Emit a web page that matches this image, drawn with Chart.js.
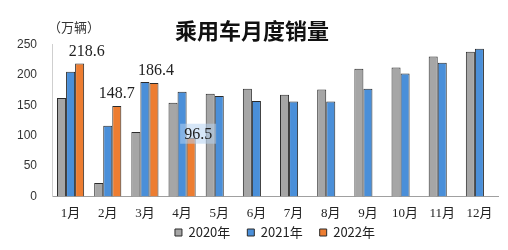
<!DOCTYPE html>
<html>
<head>
<meta charset="utf-8">
<script src="https://cdn.jsdelivr.net/npm/chart.js@4"></script>
<style>
  html, body { margin: 0; padding: 0; background: #fff; }
  #wrap { width: 508px; height: 250px; position: relative; }
</style>
</head>
<body>
<div id="wrap"><canvas id="sales_chart"></canvas></div>
<script>
// 乘用车月度销量 (万辆)
const months = ["1月", "2月", "3月", "4月", "5月", "6月", "7月", "8月", "9月", "10月", "11月", "12月"];
const sales2020 = [162, 22, 106, 154, 169, 177, 167, 176, 210, 212, 230, 238];
const sales2021 = [205, 116, 188, 172, 165, 157, 156, 156, 177, 202, 220, 243];
const sales2022 = [218.6, 148.7, 186.4, 96.5, null, null, null, null, null, null, null, null];
const yTicks = [0, 50, 100, 150, 200, 250];

const CJK = "'Noto Sans CJK SC', 'Liberation Sans', sans-serif";
const SERIF = "'Liberation Serif', 'Noto Sans CJK SC', serif";

// value labels over the 2022 bars (dx/dy in px, style only)
const labelNudge = [[7, 0], [0, 0], [2, 0], [7, 9]];

const valueLabels = {
    id: "valueLabels",
    afterDatasetsDraw(chart) {
        var ctx = chart.ctx;
        var meta = chart.getDatasetMeta(2);
        ctx.save();
        ctx.font = "16px " + SERIF;
        ctx.textAlign = "center";
        ctx.textBaseline = "bottom";
        sales2022.forEach(function (v, i) {
            if (v == null) return;
            var bar = meta.data[i];
            var n = labelNudge[i] || [0, 0];
            var x = bar.x + n[0];
            var y = bar.y - 4 + n[1];
            var txt = v.toFixed(1);
            if (i === 3) {
                // faint box behind the 4月 label
                var w = ctx.measureText(txt).width;
                ctx.fillStyle = "rgba(180, 210, 240, 0.55)";
                ctx.fillRect(x - w / 2 - 4, y - 19, w + 8, 20);
            }
            ctx.fillStyle = "#222";
            ctx.fillText(txt, x, y);
        });
        ctx.restore();
    }
};

const unitLabel = {
    id: "unitLabel",
    afterDraw(chart) {
        var ctx = chart.ctx;
        ctx.save();
        ctx.font = "13px " + CJK;
        ctx.fillStyle = "#333";
        ctx.textAlign = "left";
        ctx.textBaseline = "middle";
        ctx.fillText("（万辆）", chart.chartArea.left - 4, 27);
        ctx.restore();
    }
};

// squeeze the legend slot, then let the legend box reach up a bit and move right
const legendFit = {
    id: "legendFit",
    beforeLayout(chart) {
        var lg = chart.legend;
        if (lg && !lg._fitWrapped) {
            var fit = lg.fit;
            lg.fit = function () { fit.call(this); this.height = 28; };
            lg._fitWrapped = true;
        }
    },
    afterLayout(chart) {
        var lg = chart.legend;
        if (lg) {
            lg.left += 23;
            lg.right += 23;
            lg.top -= 13;
            lg.height += 13;
        }
    }
};

var barStyle = { borderColor: "#2b2b2b", borderWidth: 1, borderSkipped: "bottom" };

new Chart("sales_chart", {
    type: "bar",
    data: {
        labels: months,
        datasets: [
            Object.assign({ label: "2020年", data: sales2020, backgroundColor: "#a6a6a6" }, barStyle),
            Object.assign({ label: "2021年", data: sales2021, backgroundColor: "#4a8fd9" }, barStyle),
            Object.assign({ label: "2022年", data: sales2022, backgroundColor: "#ed7d31" }, barStyle)
        ]
    },
    options: {
        responsive: true,
        maintainAspectRatio: false,
        animation: false,
        categoryPercentage: 0.73,
        barPercentage: 1,
        layout: {
            padding: { left: 6, right: 10, top: 0, bottom: 0 }
        },
        scales: {
            x: {
                grid: { display: false },
                border: { display: true, color: "#a0a0a0", width: 1 },
                ticks: {
                    color: "#222",
                    font: { family: SERIF, size: 13 },
                    padding: 1,
                    maxRotation: 0,
                    autoSkip: false
                }
            },
            y: {
                min: 0,
                max: 250,
                afterBuildTicks: function (axis) {
                    axis.ticks = yTicks.map(function (v) { return { value: v }; });
                },
                afterFit: function (axis) { axis.width = 46; },
                grid: { display: false },
                border: { display: true, color: "#cfcfcf", width: 1 },
                ticks: {
                    color: "#333",
                    font: { family: "'Liberation Sans', sans-serif", size: 12 },
                    padding: 7
                }
            }
        },
        plugins: {
            title: {
                display: true,
                text: "乘用车月度销量",
                color: "#111",
                font: { family: CJK, size: 22, weight: "bold" },
                padding: { top: 17, bottom: 1 }
            },
            legend: {
                position: "bottom",
                labels: {
                    color: "#222",
                    font: { family: CJK, size: 13 },
                    boxWidth: 7,
                    boxHeight: 7,
                    padding: 17
                }
            },
            tooltip: { enabled: false }
        }
    },
    plugins: [valueLabels, unitLabel, legendFit]
});
</script>
</body>
</html>
